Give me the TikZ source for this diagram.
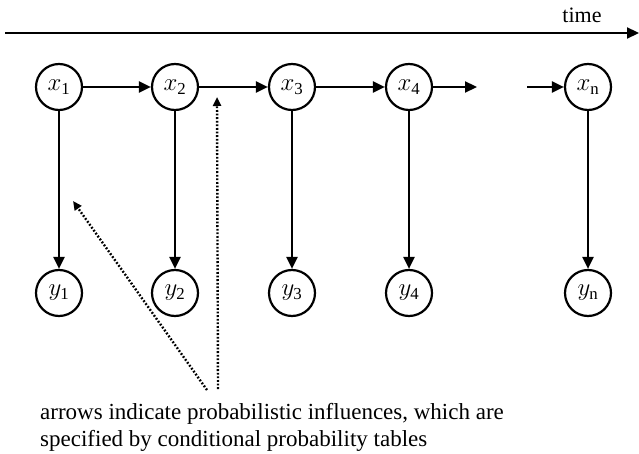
\documentclass[tikz,border=0pt]{standalone}
\usepackage{fontspec}
\setmainfont{Liberation Serif}
\usetikzlibrary{arrows.meta, positioning}

\begin{document}
\begin{tikzpicture}[
    x=1pt, y=-1pt,
    state/.style={circle, draw, line width=2.2pt, minimum size=46pt, inner sep=0pt, font=\fontsize{24}{28}\selectfont},
    arr/.style={line width=2.2pt, -{Triangle[length=12pt, width=11pt]}},
    hint/.style={line width=2.4pt, dash pattern=on 1.8pt off 1.8pt, -{Triangle[length=9pt, width=8pt]}},
    note/.style={font=\fontsize{23}{27}\selectfont, align=left, inner sep=0pt},
]
\useasboundingbox (0,0) rectangle (639,454);

% time axis
\coordinate (t0) at (5,33);
\coordinate (t1) at (639,33);
\draw[arr] (t0) -- (t1);
\node[note, font=\fontsize{22}{26}\selectfont] (time) at (582,15) {time};

% hidden states and observations
\foreach \i/\px in {1/59, 2/175, 3/292, 4/409, n/588} {
    \node[state] (x\i) at (\px,87) {$x_{\mathrm{\i}}$};
    \node[state] (y\i) at (\px,293) {$y_{\mathrm{\i}}$};
    \draw[arr] (x\i) -- (y\i);
}

% transitions
\draw[arr] (x1) -- (x2);
\draw[arr] (x2) -- (x3);
\draw[arr] (x3) -- (x4);
\coordinate (gapl) at (477,87);
\coordinate (gapr) at (527,87);
\draw[arr] (x4) -- (gapl);
\draw[arr] (gapr) -- (xn);

% annotation
\coordinate (fromd) at (207,390);
\coordinate (fromv) at (218,389);
\coordinate (toemit) at (73,201);
\coordinate (totrans) at (217,97);
\draw[hint] (fromd) -- (toemit);
\draw[hint] (fromv) -- (totrans);
\node[note, anchor=north west] (caption) at (40,403)
    {arrows indicate probabilistic influences, which are\\specified by conditional probability tables};
\end{tikzpicture}
\end{document}
